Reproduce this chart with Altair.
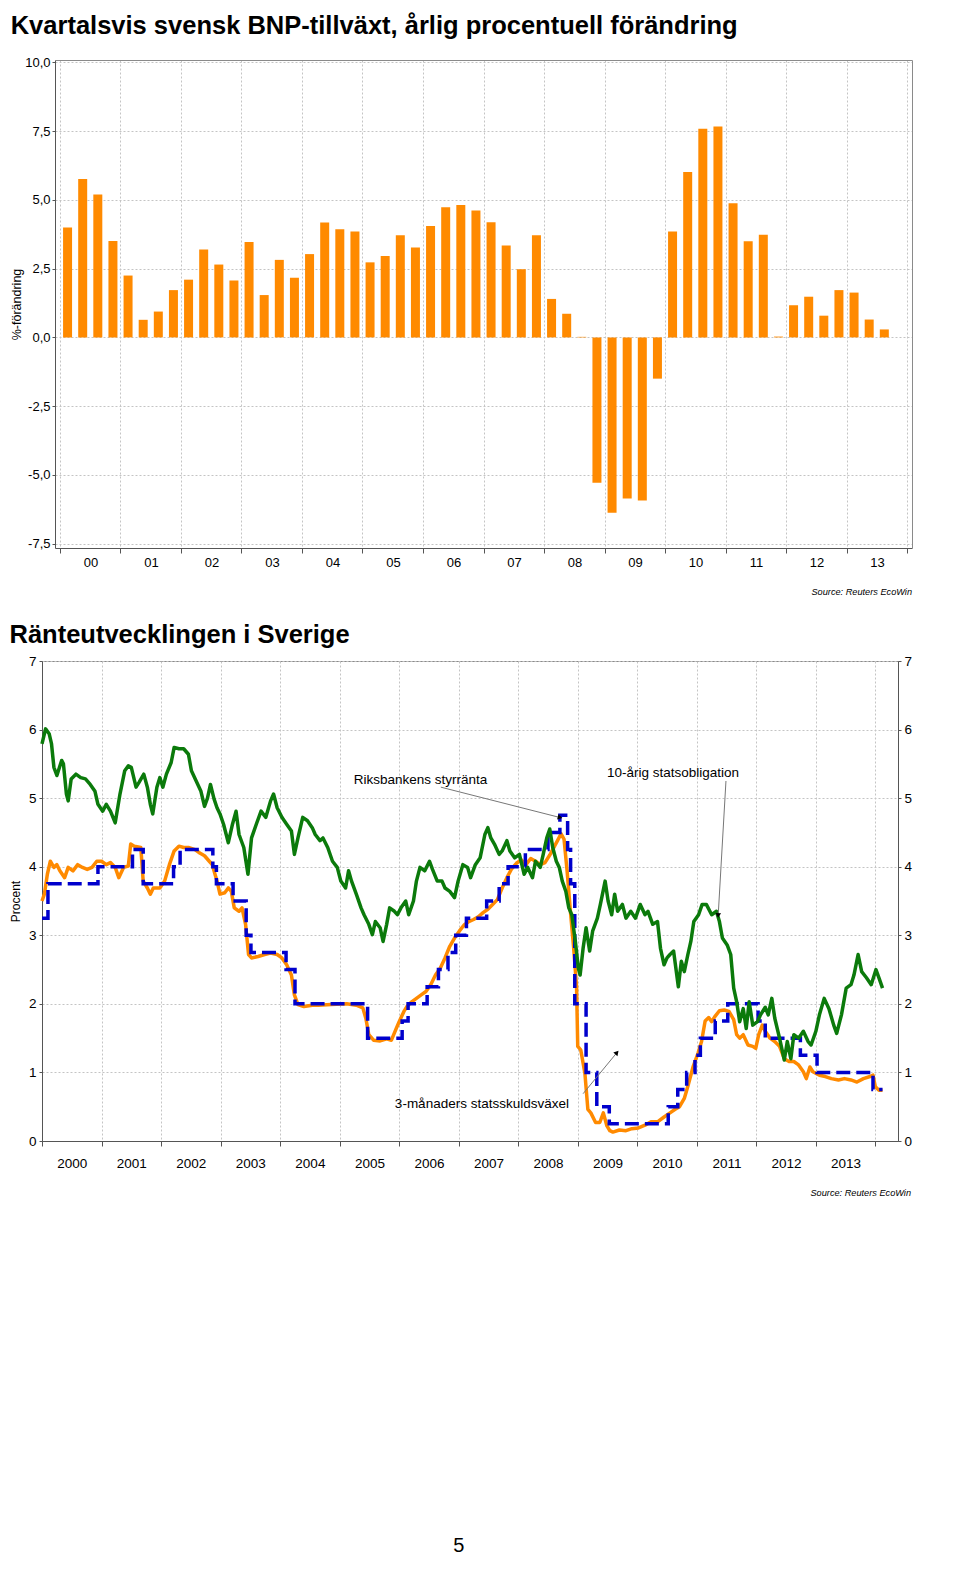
import altair as alt
import pandas as pd

FONT = "Liberation Sans"

# ---------------- Chart 1: quarterly GDP growth (annual % change) ----------------
gdp_growth = [4.00, 5.76, 5.20, 3.51, 2.25, 0.64, 0.94, 1.72, 2.10, 3.20,
              2.65, 2.07, 3.47, 1.54, 2.82, 2.17, 3.03, 4.18, 3.93, 3.85,
              2.73, 2.96, 3.72, 3.27, 4.05, 4.73, 4.82, 4.62, 4.19, 3.34,
              2.48, 3.72, 1.40, 0.86, 0.02, -5.29, -6.38, -5.86, -5.93, -1.50,
              3.85, 6.02, 7.59, 7.67, 4.88, 3.50, 3.73, 0.03, 1.17, 1.48,
              0.79, 1.72, 1.63, 0.65, 0.29]
quarter_labels = [f"{y}Q{q}" for y in range(2000, 2014) for q in range(1, 5)][:len(gdp_growth)]
gdp_y_ticks = [-7.5, -5.0, -2.5, 0.0, 2.5, 5.0, 7.5, 10.0]
year_ticks = list(range(2000, 2015))

# ---------------- Chart 2: Swedish interest rates ----------------
bond_10y = [
    (2000.00, 5.79), (2000.06, 6.01), (2000.12, 5.94), (2000.16, 5.79), (2000.20, 5.45),
    (2000.25, 5.33), (2000.33, 5.55), (2000.36, 5.50), (2000.41, 5.06), (2000.44, 4.96),
    (2000.49, 5.28), (2000.57, 5.35), (2000.65, 5.30), (2000.73, 5.28), (2000.81, 5.20),
    (2000.89, 5.10), (2000.94, 4.91), (2001.02, 4.81), (2001.08, 4.91), (2001.15, 4.81),
    (2001.23, 4.64), (2001.31, 5.06), (2001.39, 5.40), (2001.45, 5.47), (2001.50, 5.45),
    (2001.58, 5.16), (2001.63, 5.23), (2001.71, 5.35), (2001.77, 5.16), (2001.82, 4.91),
    (2001.86, 4.77), (2001.93, 5.16), (2001.98, 5.30), (2002.03, 5.16), (2002.09, 5.35),
    (2002.17, 5.52), (2002.22, 5.74), (2002.30, 5.72), (2002.38, 5.72), (2002.46, 5.64),
    (2002.51, 5.40), (2002.59, 5.25), (2002.67, 5.10), (2002.73, 4.88), (2002.78, 5.00),
    (2002.83, 5.20), (2002.89, 4.99), (2002.94, 4.86), (2002.99, 4.77), (2003.05, 4.62),
    (2003.13, 4.35), (2003.20, 4.62), (2003.26, 4.81), (2003.31, 4.47), (2003.39, 4.28),
    (2003.46, 3.89), (2003.52, 4.42), (2003.60, 4.62), (2003.68, 4.81), (2003.76, 4.72),
    (2003.84, 4.96), (2003.89, 5.06), (2003.95, 4.86), (2004.03, 4.72), (2004.11, 4.62),
    (2004.19, 4.52), (2004.24, 4.18), (2004.30, 4.42), (2004.38, 4.72), (2004.46, 4.67),
    (2004.54, 4.57), (2004.59, 4.47), (2004.67, 4.38), (2004.72, 4.42), (2004.80, 4.28),
    (2004.88, 4.08), (2004.96, 3.99), (2005.02, 3.79), (2005.10, 3.69), (2005.15, 3.94),
    (2005.20, 3.79), (2005.28, 3.60), (2005.36, 3.40), (2005.41, 3.30), (2005.49, 3.16),
    (2005.55, 3.01), (2005.60, 3.20), (2005.68, 3.11), (2005.73, 2.91), (2005.79, 3.16),
    (2005.84, 3.40), (2005.92, 3.35), (2005.97, 3.30), (2006.03, 3.40), (2006.11, 3.50),
    (2006.16, 3.30), (2006.24, 3.50), (2006.29, 3.79), (2006.35, 3.99), (2006.43, 3.94),
    (2006.51, 4.08), (2006.56, 3.96), (2006.64, 3.79), (2006.72, 3.79), (2006.77, 3.69),
    (2006.85, 3.64), (2006.93, 3.55), (2006.99, 3.79), (2007.07, 4.03), (2007.15, 3.99),
    (2007.20, 3.84), (2007.28, 4.03), (2007.36, 4.13), (2007.44, 4.47), (2007.49, 4.57),
    (2007.54, 4.42), (2007.60, 4.33), (2007.68, 4.18), (2007.73, 4.23), (2007.81, 4.38),
    (2007.86, 4.23), (2007.94, 4.13), (2008.02, 4.18), (2008.10, 3.89), (2008.16, 3.99),
    (2008.24, 3.84), (2008.29, 4.08), (2008.37, 3.99), (2008.42, 4.18), (2008.48, 4.42),
    (2008.53, 4.55), (2008.58, 4.28), (2008.64, 4.08), (2008.69, 3.99), (2008.74, 3.79),
    (2008.80, 3.64), (2008.85, 3.40), (2008.90, 3.30), (2008.96, 2.91), (2009.01, 2.52),
    (2009.04, 2.42), (2009.09, 2.81), (2009.14, 3.11), (2009.20, 2.77), (2009.25, 3.06),
    (2009.33, 3.25), (2009.38, 3.45), (2009.46, 3.79), (2009.51, 3.50), (2009.57, 3.30),
    (2009.62, 3.60), (2009.67, 3.35), (2009.75, 3.45), (2009.81, 3.25), (2009.89, 3.35),
    (2009.97, 3.25), (2010.05, 3.45), (2010.13, 3.30), (2010.18, 3.35), (2010.26, 3.16),
    (2010.34, 3.20), (2010.39, 2.81), (2010.45, 2.57), (2010.50, 2.67), (2010.55, 2.72),
    (2010.61, 2.77), (2010.69, 2.25), (2010.74, 2.62), (2010.79, 2.47), (2010.85, 2.72),
    (2010.90, 2.91), (2010.95, 3.20), (2011.03, 3.30), (2011.09, 3.45), (2011.16, 3.45),
    (2011.25, 3.30), (2011.33, 3.35), (2011.38, 3.20), (2011.43, 2.96), (2011.51, 2.86),
    (2011.57, 2.72), (2011.62, 2.23), (2011.67, 2.03), (2011.72, 1.74), (2011.78, 1.93),
    (2011.83, 1.64), (2011.88, 2.03), (2011.94, 1.69), (2012.02, 1.74), (2012.07, 1.84),
    (2012.15, 1.95), (2012.20, 1.84), (2012.26, 2.08), (2012.31, 1.79), (2012.39, 1.50),
    (2012.47, 1.18), (2012.52, 1.45), (2012.58, 1.20), (2012.63, 1.55), (2012.71, 1.50),
    (2012.79, 1.60), (2012.87, 1.45), (2012.92, 1.40), (2013.00, 1.60), (2013.06, 1.84),
    (2013.14, 2.08), (2013.22, 1.93), (2013.30, 1.69), (2013.35, 1.57), (2013.43, 1.84),
    (2013.51, 2.23), (2013.59, 2.28), (2013.64, 2.42), (2013.71, 2.72), (2013.77, 2.47),
    (2013.85, 2.38), (2013.93, 2.28), (2014.01, 2.50), (2014.06, 2.38), (2014.12, 2.23),
]

tbill_3m = [
    (2000.00, 3.50), (2000.04, 3.60), (2000.09, 3.89), (2000.14, 4.08), (2000.20, 3.99),
    (2000.25, 4.03), (2000.30, 3.94), (2000.38, 3.84), (2000.44, 3.99), (2000.52, 3.94),
    (2000.60, 4.03), (2000.68, 3.99), (2000.76, 3.96), (2000.84, 3.99), (2000.92, 4.08),
    (2001.00, 4.08), (2001.08, 4.03), (2001.15, 4.06), (2001.23, 3.99), (2001.29, 3.84),
    (2001.37, 3.99), (2001.45, 4.01), (2001.49, 4.33), (2001.55, 4.30), (2001.66, 4.28),
    (2001.70, 3.79), (2001.77, 3.69), (2001.82, 3.60), (2001.87, 3.69), (2001.98, 3.69),
    (2002.06, 3.79), (2002.14, 4.03), (2002.22, 4.23), (2002.30, 4.30), (2002.38, 4.28),
    (2002.46, 4.28), (2002.57, 4.25), (2002.65, 4.20), (2002.73, 4.16), (2002.81, 4.08),
    (2002.86, 4.03), (2002.94, 3.79), (2002.99, 3.60), (2003.07, 3.62), (2003.13, 3.69),
    (2003.18, 3.64), (2003.23, 3.40), (2003.31, 3.35), (2003.36, 3.40), (2003.42, 3.16),
    (2003.47, 2.72), (2003.52, 2.67), (2003.63, 2.69), (2003.74, 2.72), (2003.84, 2.74),
    (2003.95, 2.72), (2004.03, 2.67), (2004.11, 2.57), (2004.19, 2.42), (2004.24, 2.13),
    (2004.30, 1.99), (2004.40, 1.96), (2004.54, 1.98), (2004.64, 1.98), (2004.86, 1.99),
    (2005.12, 2.00), (2005.28, 1.98), (2005.39, 1.94), (2005.44, 1.79), (2005.49, 1.55),
    (2005.57, 1.47), (2005.68, 1.46), (2005.79, 1.49), (2005.87, 1.47), (2005.95, 1.64),
    (2006.00, 1.74), (2006.08, 1.89), (2006.13, 1.96), (2006.21, 2.03), (2006.29, 2.08),
    (2006.37, 2.13), (2006.45, 2.18), (2006.53, 2.28), (2006.61, 2.42), (2006.69, 2.52),
    (2006.77, 2.67), (2006.85, 2.84), (2006.93, 2.96), (2007.01, 3.06), (2007.09, 3.15),
    (2007.17, 3.20), (2007.25, 3.23), (2007.33, 3.27), (2007.41, 3.33), (2007.49, 3.38),
    (2007.57, 3.45), (2007.65, 3.52), (2007.73, 3.69), (2007.81, 3.84), (2007.89, 3.97),
    (2007.97, 4.05), (2008.05, 4.10), (2008.13, 4.03), (2008.21, 4.12), (2008.29, 4.08),
    (2008.37, 4.03), (2008.45, 4.06), (2008.53, 4.17), (2008.61, 4.30), (2008.66, 4.38),
    (2008.72, 4.48), (2008.77, 4.40), (2008.82, 3.95), (2008.88, 3.32), (2008.93, 2.83),
    (2008.98, 2.25), (2009.00, 1.38), (2009.05, 1.33), (2009.12, 0.99), (2009.17, 0.46),
    (2009.22, 0.41), (2009.30, 0.27), (2009.37, 0.27), (2009.43, 0.41), (2009.49, 0.22),
    (2009.54, 0.15), (2009.59, 0.13), (2009.70, 0.16), (2009.81, 0.15), (2009.91, 0.18),
    (2010.02, 0.19), (2010.13, 0.23), (2010.23, 0.28), (2010.34, 0.28), (2010.45, 0.35),
    (2010.55, 0.41), (2010.63, 0.46), (2010.71, 0.50), (2010.79, 0.62), (2010.85, 0.80),
    (2010.94, 1.09), (2011.02, 1.28), (2011.08, 1.45), (2011.14, 1.75), (2011.20, 1.80),
    (2011.25, 1.74), (2011.30, 1.81), (2011.38, 1.90), (2011.46, 1.91), (2011.54, 1.89),
    (2011.62, 1.77), (2011.67, 1.55), (2011.72, 1.50), (2011.78, 1.55), (2011.86, 1.40),
    (2011.94, 1.38), (2011.99, 1.35), (2012.04, 1.55), (2012.10, 1.69), (2012.15, 1.60),
    (2012.23, 1.50), (2012.31, 1.45), (2012.39, 1.38), (2012.47, 1.20), (2012.55, 1.16),
    (2012.63, 1.16), (2012.71, 1.11), (2012.79, 1.01), (2012.84, 0.91), (2012.90, 1.08),
    (2012.95, 1.01), (2013.06, 0.96), (2013.16, 0.94), (2013.26, 0.91), (2013.38, 0.89),
    (2013.48, 0.91), (2013.59, 0.89), (2013.69, 0.86), (2013.80, 0.91), (2013.91, 0.94),
    (2013.96, 0.96), (2014.00, 0.79), (2014.06, 0.74), (2014.12, 0.74),
]

repo_rate = [
    (2000.00, 3.25), (2000.10, 3.75), (2000.94, 4.00), (2001.52, 4.25), (2001.70, 3.75),
    (2002.21, 4.00), (2002.32, 4.25), (2002.87, 4.00), (2002.93, 3.75), (2003.21, 3.50),
    (2003.43, 3.00), (2003.51, 2.75), (2004.10, 2.50), (2004.25, 2.00), (2005.47, 1.50),
    (2006.05, 1.75), (2006.15, 2.00), (2006.47, 2.25), (2006.66, 2.50), (2006.82, 2.75),
    (2006.95, 3.00), (2007.13, 3.25), (2007.47, 3.50), (2007.68, 3.75), (2007.83, 4.00),
    (2008.12, 4.25), (2008.50, 4.50), (2008.70, 4.75), (2008.83, 4.25), (2008.88, 3.75),
    (2008.95, 2.00), (2009.14, 1.00), (2009.32, 0.50), (2009.53, 0.25), (2010.52, 0.50),
    (2010.68, 0.75), (2010.83, 1.00), (2010.97, 1.25), (2011.06, 1.50), (2011.31, 1.75),
    (2011.52, 2.00), (2012.03, 1.75), (2012.15, 1.50), (2012.74, 1.25), (2013.02, 1.00),
    (2013.96, 0.75), (2014.12, 0.75),
]
rate_y_ticks = [0, 1, 2, 3, 4, 5, 6, 7]

ann_labels = ["Riksbankens styrränta", "10-årig statsobligation", "3-månaders statsskuldsväxel"]
ann_t = [2006.36, 2010.60, 2007.39]
ann_v = [5.26, 5.36, 0.545]
arrow_from_t = [2006.70, 2011.49, 2009.09]
arrow_from_v = [5.16, 5.25, 0.69]
arrow_to_t = [2008.69, 2011.36, 2009.65]
arrow_to_v = [4.72, 3.30, 1.28]
arrow_angles = [104, 183, 41]

source_text = "Source: Reuters EcoWin"

GRID = dict(grid=True, gridDash=[2, 2], gridColor="#c4c4c4", gridWidth=1)
AX = "#555555"
FRAME = "#8a8a8a"

# ---------------- build top chart ----------------
TOP_SHIFT = 13
TOP_W = 870
BOT_W = 856

gdp_df = pd.DataFrame({
    "kvartal": quarter_labels,
    "t": [int(k[:4]) + (int(k[-1]) - 0.5) / 4 for k in quarter_labels],
    "v": gdp_growth,
})

top_xs = alt.Scale(domain=[2000, 2014], range=[TOP_SHIFT, TOP_W], nice=False, zero=False)
top_ys = alt.Scale(domain=[-7.66, 10.09], nice=False, zero=False)

top_x = alt.X(
    "t:Q", scale=top_xs,
    axis=alt.Axis(
        values=year_ticks, title=None, orient="bottom",
        labelExpr="datum.value < 2014 ? substring(toString(datum.value), 2, 4) : ''",
        labelOffset=(TOP_W - TOP_SHIFT) / 28, labelFlush=False, labelOverlap=False,
        tickSize=5, tickColor=AX, domainColor=AX,
        labelFontSize=13, labelPadding=3, **GRID,
    ),
)
top_y = alt.Y(
    "v:Q", scale=top_ys,
    axis=alt.Axis(
        values=gdp_y_ticks, title="%-förändring", orient="left", offset=-TOP_SHIFT,
        labelExpr="replace(replace(format(datum.value, '.1f'), '.', ','), '\u2212', '-')",
        tickSize=3, tickColor=AX, domainColor=AX,
        labelFontSize=13, labelPadding=2, titleFontSize=12.5, titlePadding=1,
        labelFlush=False, labelOverlap=False, **GRID,
    ),
)

bars = alt.Chart(gdp_df).mark_bar(size=9, color="#FF8A00").encode(
    x=top_x, y=top_y, y2=alt.datum(0)
)
frame = alt.Chart(gdp_df).mark_bar(size=1, opacity=0).encode(
    x=alt.X("t:Q", scale=top_xs, axis=alt.Axis(
        orient="top", title=None, labels=False, ticks=False, grid=False,
        domainColor=FRAME, domainWidth=1)),
    y=alt.Y("v:Q", scale=top_ys, axis=alt.Axis(
        orient="right", title=None, labels=False, ticks=False, grid=False,
        domainColor=FRAME, domainWidth=1)),
    y2=alt.datum(0),
)

src_top = alt.Chart(pd.DataFrame({"s": [source_text]})).mark_text(
    align="right", baseline="middle", fontStyle="italic", fontSize=9.2, color="black"
).encode(text="s:N", x=alt.value(TOP_W), y=alt.value(532))

top = alt.layer(bars, frame, src_top).resolve_axis(
    x="independent", y="independent"
).properties(
    width=TOP_W, height=488,
    view=alt.ViewBackground(stroke="transparent"),
    title=alt.TitleParams(
        "Kvartalsvis svensk BNP-tillväxt, årlig procentuell förändring",
        fontSize=25.5, fontWeight="bold", anchor="start", frame="bounds",
        offset=17, color="black",
    ),
)

# ---------------- build bottom chart ----------------
bond_df = pd.DataFrame(bond_10y, columns=["t", "v"])
tbill_df = pd.DataFrame(tbill_3m, columns=["t", "v"])
repo_df = pd.DataFrame(repo_rate, columns=["t", "v"])
ann_df = pd.DataFrame({"label": ann_labels, "t": ann_t, "v": ann_v})
arrow_df = pd.DataFrame({"t1": arrow_from_t, "v1": arrow_from_v,
                         "t2": arrow_to_t, "v2": arrow_to_v})

xs = alt.Scale(domain=[2000, 2014.38], nice=False, zero=False)
ys = alt.Scale(domain=[0, 7], nice=False, zero=False)

bottom_x_axis = alt.Axis(
    values=year_ticks, title=None,
    labelExpr="datum.value < 2014 ? toString(datum.value) : ''",
    labelOffset=BOT_W / 14.38 / 2, labelFlush=False, labelOverlap=False,
    tickSize=5, tickColor=AX, domainColor=AX,
    labelFontSize=13.5, labelPadding=10, **GRID,
)


def bxf(field):
    # every layer carries the same x axis definition so the shared axis merges cleanly
    return alt.X(f"{field}:Q", scale=xs, axis=bottom_x_axis)


y_left = alt.Y(
    "v:Q", scale=ys,
    axis=alt.Axis(
        values=rate_y_ticks, title="Procent", orient="left",
        tickSize=3, tickColor=AX, domainColor=AX,
        labelFontSize=13.5, labelPadding=3, titleFontSize=12, titlePadding=6,
        labelFlush=False, **GRID,
    ),
)
y_right = alt.Y(
    "v:Q", scale=ys,
    axis=alt.Axis(
        values=rate_y_ticks, title=None, orient="right", grid=False,
        tickSize=3, tickColor=AX, domainColor=AX,
        labelFontSize=13.5, labelPadding=3, labelFlush=False,
    ),
)
y_plain = alt.Y("v:Q", scale=ys, axis=None)

orange = alt.Chart(tbill_df).mark_line(
    color="#FF8A00", strokeWidth=3.5, strokeJoin="round"
).encode(x=bxf("t"), y=y_left)
blue = alt.Chart(repo_df).mark_line(
    color="#0000CC", strokeWidth=3.5, interpolate="step-after", strokeDash=[14, 6]
).encode(x=bxf("t"), y=y_plain)
green = alt.Chart(bond_df).mark_line(
    color="#0B7A0B", strokeWidth=3.5, strokeJoin="round"
).encode(x=bxf("t"), y=y_right)

ann_text = alt.Chart(ann_df).mark_text(fontSize=13.5, color="black").encode(
    x=bxf("t"), y=y_plain, text="label:N"
)
arrow_lines = alt.Chart(arrow_df).mark_rule(color="#777777", strokeWidth=1).encode(
    x=bxf("t1"), y=alt.Y("v1:Q", scale=ys, axis=None),
    x2="t2:Q", y2="v2:Q",
)
heads = [
    alt.Chart(arrow_df.iloc[[i]]).mark_point(
        shape="triangle", filled=True, size=30, color="black", opacity=1, angle=arrow_angles[i]
    ).encode(x=bxf("t2"), y=alt.Y("v2:Q", scale=ys, axis=None))
    for i in range(len(arrow_angles))
]

src_bottom = alt.Chart(pd.DataFrame({"s": [source_text]})).mark_text(
    align="right", baseline="middle", fontStyle="italic", fontSize=9.2, color="black"
).encode(text="s:N", x=alt.value(BOT_W + 13), y=alt.value(532))
page_no = alt.Chart(pd.DataFrame({"s": ["5"]})).mark_text(
    align="center", baseline="middle", fontSize=20, color="black"
).encode(text="s:N", x=alt.value(BOT_W * 0.487), y=alt.value(885))

bottom = alt.layer(
    orange, blue, green, arrow_lines, *heads, ann_text, src_bottom, page_no
).resolve_axis(y="independent").properties(
    width=BOT_W, height=480,
    title=alt.TitleParams(
        "Ränteutvecklingen i Sverige",
        fontSize=25.5, fontWeight="bold", anchor="start", frame="bounds",
        offset=6, color="black",
    ),
)

chart = (
    alt.concat(top, bottom, columns=1, spacing=24)
    .properties(padding={"top": 5, "left": 0, "right": 0, "bottom": 0}, background="white")
    .configure(font=FONT)
    .configure_view(stroke=FRAME, strokeWidth=1)
    .configure_axis(labelColor="black", titleColor="black", titleFontWeight="normal",
                    labelFont=FONT, titleFont=FONT)
    .configure_title(font=FONT)
    .configure_text(font=FONT)
)

chart.save("out.html", embed_options={"renderer": "svg", "actions": False})
